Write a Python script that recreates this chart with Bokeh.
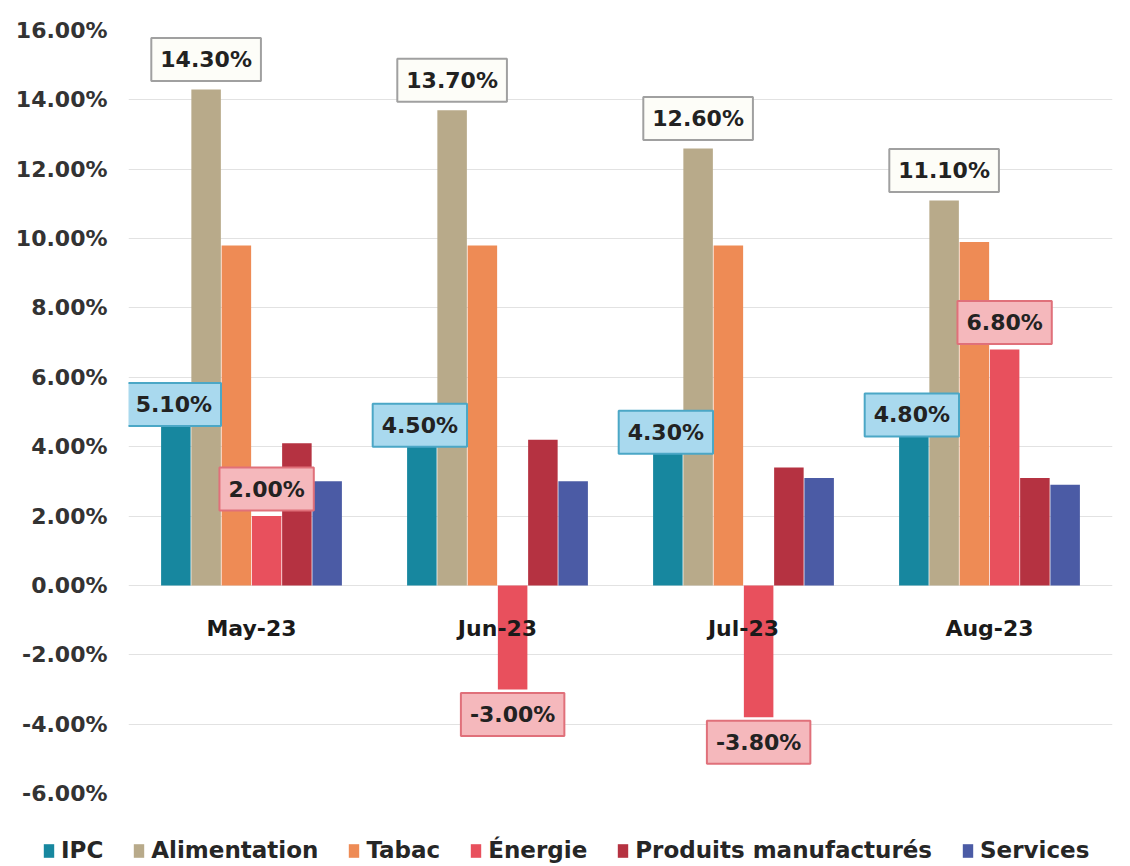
from bokeh.plotting import figure
from bokeh.models import ColumnDataSource, FactorRange, Range1d, FixedTicker, PrintfTickFormatter, Legend, LegendItem
from bokeh.transform import dodge
from bokeh.core.properties import value
from bokeh.embed import file_html
from bokeh.resources import INLINE

months = ["May-23", "Jun-23", "Jul-23", "Aug-23"]
series_names = ["IPC", "Alimentation", "Tabac", "Énergie", "Produits manufacturés", "Services"]
ipc = [5.1, 4.5, 4.3, 4.8]
alimentation = [14.3, 13.7, 12.6, 11.1]
tabac = [9.8, 9.8, 9.8, 9.9]
energie = [2.0, -3.0, -3.8, 6.8]
produits = [4.1, 4.2, 3.4, 3.1]
services = [3.0, 3.0, 3.1, 2.9]
y_ticks = [-6, -4, -2, 0, 2, 4, 6, 8, 10, 12, 14, 16]

colors = ["#17879f", "#b8aa8a", "#ee8b55", "#e8505d", "#b53241", "#4b5ba5"]
FONT = "DejaVu Sans"

def fmt(v):
    return f"{v:.2f}%"

src = ColumnDataSource(dict(
    month=months, ipc=ipc, alimentation=alimentation, tabac=tabac,
    energie=energie, produits=produits, services=services,
    ipc_lbl=[fmt(v) for v in ipc],
    alim_lbl=[fmt(v) for v in alimentation],
    ener_lbl=[fmt(v) for v in energie],
    ener_off=[-27 if v >= 0 else 25 for v in energie],
))

p = figure(x_range=FactorRange(*months), y_range=Range1d(-6, 16),
           width=1130, height=810, output_backend="svg", toolbar_location=None,
           x_axis_location=None, title=None,
           min_border_left=128, min_border_right=18, min_border_top=30, min_border_bottom=17)
p.outline_line_color = None
p.background_fill_color = "white"

yax = p.yaxis[0]
yax.ticker = FixedTicker(ticks=y_ticks)
yax.formatter = PrintfTickFormatter(format="%.2f%%")
yax.major_label_text_font = FONT
yax.major_label_text_font_style = "bold"
yax.major_label_text_font_size = "22px"
yax.major_label_text_color = "#333333"
yax.axis_line_color = None
yax.major_tick_line_color = None
yax.minor_tick_line_color = None
yax.major_tick_out = 0
yax.major_tick_in = 0
yax.major_label_standoff = 21

p.xgrid.grid_line_color = None
p.ygrid.grid_line_color = "#e2e2e2"
p.ygrid.grid_line_width = 1

keys = ["ipc", "alimentation", "tabac", "energie", "produits", "services"]
step = 0.123
for i, (k, c) in enumerate(zip(keys, colors)):
    p.vbar(x=dodge("month", (i - 2.5) * step, range=p.x_range), top=k, bottom=0,
           width=0.12, source=src, fill_color=c, line_color=None)

common = dict(text_align="center", text_baseline="middle", text_font=value(FONT),
              text_font_style="bold", text_font_size="22px", text_color="#222222",
              border_line_width=2, padding=9)

p.text(x=dodge("month", -2.5 * step, range=p.x_range), y="ipc", text="ipc_lbl", source=src,
       x_offset=-2, y_offset=-4, background_fill_color="#a9d9ee", border_line_color="#4ba7c6", **common)
p.text(x=dodge("month", -1.5 * step, range=p.x_range), y="alimentation", text="alim_lbl", source=src,
       x_offset=0, y_offset=-30, background_fill_color="#fdfdf8", border_line_color="#a0a0a0", **common)
p.text(x=dodge("month", 0.5 * step, range=p.x_range), y="energie", text="ener_lbl", source=src,
       x_offset=0, y_offset="ener_off", background_fill_color="#f5b8bc", border_line_color="#e0707a", **common)

# category labels
p.text(x=months, y=[-1.25] * len(months), text=months, text_align="center", text_baseline="middle",
       text_font=value(FONT), text_font_style="bold", text_font_size="22px", text_color="#1a1a1a")

# legend strip (separate root so that its frame spans the full width)
p2 = figure(width=1130, height=56, output_backend="svg", toolbar_location=None,
            x_axis_location=None, y_axis_location=None, title=None,
            x_range=Range1d(0, 1), y_range=Range1d(0, 1),
            min_border_left=0, min_border_right=0, min_border_top=0, min_border_bottom=0)
p2.outline_line_color = None
p2.grid.grid_line_color = None
items = []
for name, c in zip(series_names, colors):
    r = p2.vbar(x=[5], top=[1], width=0.1, fill_color=c, line_color=None)
    items.append(LegendItem(label=name, renderers=[r]))

leg = Legend(items=items, orientation="horizontal", location=(42, 3))
leg.label_text_font = FONT
leg.label_text_font_style = "bold"
leg.label_text_font_size = "23px"
leg.label_text_color = "#262626"
leg.glyph_width = 13
leg.glyph_height = 17
leg.label_standoff = 6
leg.spacing = 29
leg.padding = 0
leg.margin = 0
leg.border_line_color = None
leg.background_fill_alpha = 0
p2.add_layout(leg, "center")

open("out.html", "w").write(file_html([p, p2], INLINE))
